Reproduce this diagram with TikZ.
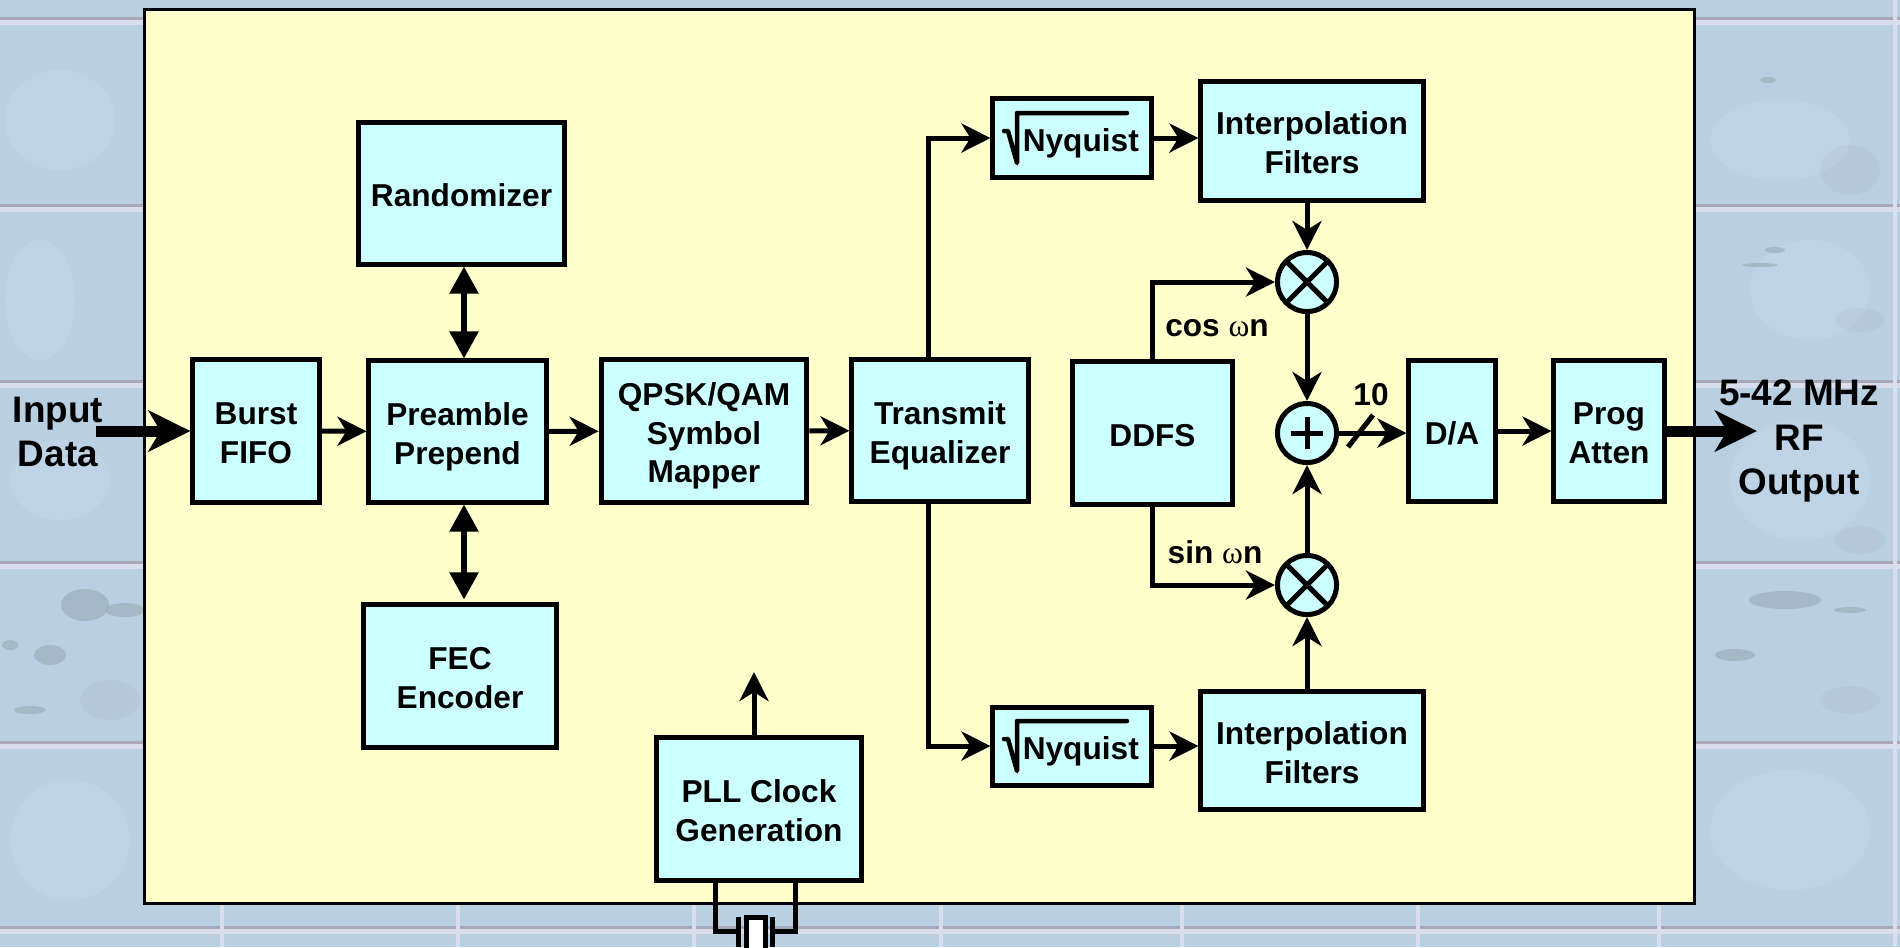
\documentclass[tikz,border=0pt]{standalone}
\usepackage{fontspec}
\setmainfont{Liberation Sans}
\newfontfamily\omegafont{Liberation Serif}
\usepackage{tikz}
\usetikzlibrary{arrows.meta,calc}
\definecolor{panelfill}{HTML}{FFFFCC}
\definecolor{blockfill}{HTML}{CCFFFF}
\definecolor{stone}{HTML}{B9D0E3}
\definecolor{mortar}{HTML}{D9DDEC}
\definecolor{mortardark}{HTML}{A9A7B8}
\definecolor{blotch}{HTML}{98A9B4}
\tikzset{
  block/.style={rectangle,draw,fill=blockfill,align=center,line width=0.05cm,
    font=\fontsize{9}{11}\selectfont\bfseries,inner sep=0pt,
    execute at end node={\rule[-2pt]{0pt}{0pt}}},
  mixer/.style={circle,draw,fill=blockfill,line width=0.05cm,minimum size=0.59cm,inner sep=0pt,
    path picture={\draw[line width=0.05cm] (path picture bounding box.north west) -- (path picture bounding box.south east)
      (path picture bounding box.north east) -- (path picture bounding box.south west);}},
  adder/.style={circle,draw,fill=blockfill,line width=0.05cm,minimum size=0.59cm,inner sep=0pt,
    path picture={\draw[line width=0.05cm] ($(path picture bounding box.center)+(-16,0)$) -- ($(path picture bounding box.center)+(16,0)$)
      ($(path picture bounding box.center)+(0,-16)$) -- ($(path picture bounding box.center)+(0,16)$);}},
  wire/.style={line width=0.05cm},
  flow/.style={wire,-{Stealth[length=0.29cm,width=0.29cm,inset=0.09cm]}},
  bothflow/.style={line width=0.055cm,{Triangle[length=0.27cm,width=0.28cm]}-{Triangle[length=0.27cm,width=0.28cm]}},
  bigflow/.style={line width=0.11cm,-{Stealth[length=0.42cm,width=0.41cm,inset=0.12cm]}},
  lbl/.style={align=center,inner sep=0pt,font=\fontsize{9}{11}\selectfont\bfseries},
  iolbl/.style={align=center,inner sep=0pt,font=\fontsize{10.5}{12.6}\selectfont\bfseries},
}
\newcommand{\wn}{{\omegafont\mdseries ω}n}
\newcommand{\lowt}{\rule{0pt}{9.5pt}}

\begin{document}
\begin{tikzpicture}[x=0.01cm,y=-0.01cm]
  \useasboundingbox (0,0) rectangle (1900,947);

  % stone wall behind the panel
  \fill[stone] (0,0) rectangle (1900,947);
  \foreach \cx/\cy/\rx/\ry in {60/120/55/50,1780/140/70/40,40/300/35/60,1810/290/60/50,
      70/840/60/60,1790/830/80/60,1800/480/70/60,60/480/50/40}
    \fill[white,opacity=0.08] (\cx,\cy) ellipse ({\rx} and {\ry});
  \foreach \cx/\cy/\rx/\ry in {1850/170/30/25,1860/320/25/12,1860/540/25/14,110/700/30/20,1850/700/30/14}
    \fill[mortardark,opacity=0.15] (\cx,\cy) ellipse ({\rx} and {\ry});
  \foreach \yy in {17,204,380,561,741,926} {
    \fill[mortardark] (0,\yy) rectangle (1900,\yy+3);
    \fill[mortar] (0,\yy+3) rectangle (1900,\yy+8);
  }
  \foreach \xx in {220,456,692,939,1180,1416,1657}
    \fill[mortar] (\xx,905) rectangle (\xx+4,947);
  \fill[mortar] (1893,0) rectangle (1897,947);
  \foreach \cx/\cy/\rx/\ry in {85/605/24/16,50/655/16/10,125/610/20/7,10/645/8/5,30/710/16/4,
      1785/600/36/9,1735/655/20/6,1850/610/16/3,1775/250/10/3,1760/265/18/2,1768/80/8/3}
    \fill[blotch,opacity=0.6] (\cx,\cy) ellipse ({\rx} and {\ry});

  \node[draw,fill=panelfill,line width=0.03cm,minimum width=15.49cm,minimum height=8.93cm,inner sep=0pt] (panel) at (919.5,456.5) {};

  \node[block,minimum width=1.26cm,minimum height=1.42cm] (fifo) at (256,431) {\lowt Burst\\FIFO};
  \node[block,minimum width=1.77cm,minimum height=1.41cm] (pre) at (457.5,431.5) {\lowt Preamble\\Prepend};
  \node[block,minimum width=2.06cm,minimum height=1.41cm] (rand) at (461.5,193.5) {\lowt Randomizer};
  \node[block,minimum width=1.92cm,minimum height=1.42cm] (fec) at (460,676) {\lowt FEC\\Encoder};
  \node[block,minimum width=2.055cm,minimum height=1.42cm] (map) at (704,431) {\lowt QPSK/QAM\\Symbol\\Mapper};
  \node[block,minimum width=1.76cm,minimum height=1.41cm] (eq) at (940,430.5) {\lowt Transmit\\Equalizer};
  \node[block,minimum width=1.58cm,minimum height=0.78cm] (nyqi) at (1072,138) {\lowt\hspace*{5pt}Nyquist};
  \node[block,minimum width=1.58cm,minimum height=0.78cm] (nyqq) at (1072,746) {\lowt\hspace*{5pt}Nyquist};
  \node[block,minimum width=2.22cm,minimum height=1.18cm] (inti) at (1312,141) {\lowt Interpolation\\Filters};
  \node[block,minimum width=2.22cm,minimum height=1.17cm] (intq) at (1312,750.5) {\lowt Interpolation\\Filters};
  \node[block,minimum width=1.59cm,minimum height=1.42cm] (ddfs) at (1152.5,433) {\lowt DDFS};
  \node[block,minimum width=0.86cm,minimum height=1.41cm] (da) at (1452,431) {\lowt D/A};
  \node[block,minimum width=1.10cm,minimum height=1.41cm] (atten) at (1609,431) {\lowt Prog\\Atten};
  \node[block,minimum width=2.04cm,minimum height=1.42cm] (pll) at (759,809) {\lowt PLL Clock\\Generation};

  \node[mixer] (muli) at (1307,282) {};
  \node[mixer] (mulq) at (1307,585) {};
  \node[adder] (sum) at (1307,433) {};

  \coordinate (indata) at (96,431);
  \coordinate (rfout) at (1757,431);
  \coordinate (clkout) at (754,672);
  \coordinate (clkbase) at (754,736);
  \coordinate (biaxis) at (464,431);
  \coordinate (xl) at (738,931);
  \coordinate (xr) at (772,931);

  \draw[bigflow] (indata) -- (fifo.west);
  \draw[flow] (fifo) -- (pre);
  \draw[flow] (pre) -- (map);
  \draw[flow] (map) -- (eq);
  \draw[bothflow] (biaxis |- rand.south) -- (biaxis |- pre.north);
  \draw[bothflow,shorten >=0.03cm] (biaxis |- pre.south) -- (biaxis |- fec.north);
  \draw[flow] ($(eq.north)+(-12,0)$) |- (nyqi.west);
  \draw[flow] ($(eq.south)+(-12,0)$) |- (nyqq.west);
  \draw[flow] (nyqi.east) -- (nyqi.east -| inti.west);
  \draw[flow] (nyqq.east) -- (nyqq.east -| intq.west);
  \draw[flow] (inti.south -| muli) -- (muli);
  \draw[flow] (intq.north -| mulq) -- (mulq);
  \draw[flow] (ddfs.north) |- (muli);
  \draw[flow] (ddfs.south) |- (mulq);
  \draw[flow] (muli) -- (sum);
  \draw[flow] (mulq) -- (sum);
  \draw[flow] (sum.east) -- (sum.east -| da.west);
  \draw[wire] ($(sum.east)+(9,14)$) -- ($(sum.east)+(34,-18)$);
  \draw[flow] (da.east) -- (da.east -| atten.west);
  \draw[bigflow] (atten.east) -- (rfout);
  \draw[flow] (clkbase) -- (clkout);

  % crystal under the PLL
  \draw[wire] ($(pll.south)+(-44,0)$) |- (xl);
  \draw[wire] ($(pll.south)+(36,0)$) |- (xr);
  \draw[wire] (738,917) -- (738,947);
  \draw[wire] (772,917) -- (772,947);
  \node[draw,fill=white,line width=0.05cm,minimum width=0.19cm,minimum height=0.56cm,inner sep=0pt] (xtal) at (755.5,945) {};

  % root signs
  \foreach \nq in {nyqi,nyqq}
    \draw[line width=0.045cm,line cap=round,line join=round] ($(\nq.center)+(-68,-7)$) -- ($(\nq.center)+(-64,-7)$)
      -- ($(\nq.center)+(-55,25)$) -- ($(\nq.center)+(-55,-25)$) -- ($(\nq.center)+(55,-25)$);

  \node[lbl] (cosl) at (1217,328) {cos \wn};
  \node[lbl] (sinl) at (1215,552) {sin \wn};
  \node[lbl] (bits) at (1371,395) {10};
  \node[iolbl] (inl) at (58,432) {Input\\Data};
  \node[iolbl] (outl) at (1799,441) {5-42 MHz\\RF\\Output};
\end{tikzpicture}
\end{document}
